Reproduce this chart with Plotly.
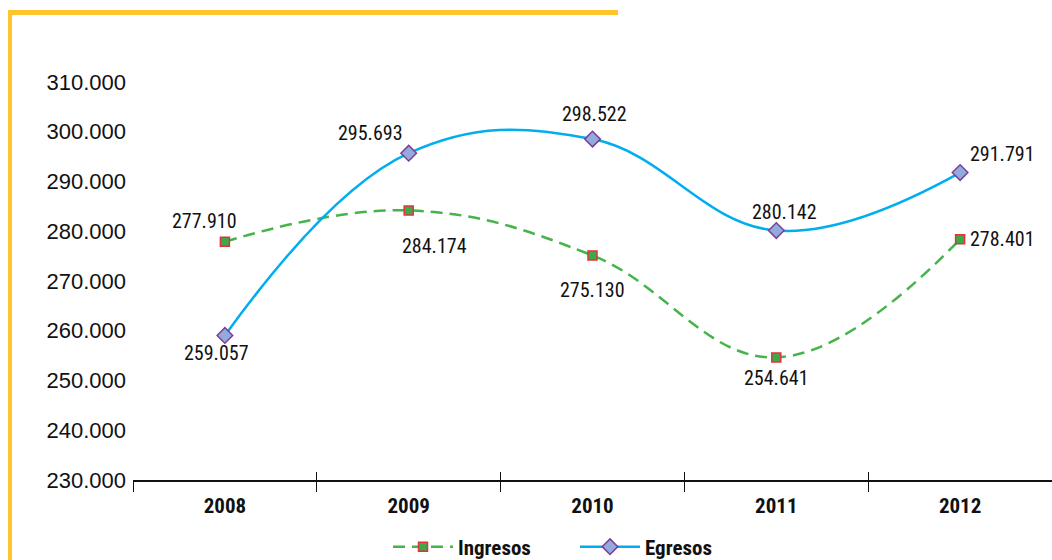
import plotly.graph_objects as go

years = ["2008", "2009", "2010", "2011", "2012"]
ingresos = [277910, 284174, 275130, 254641, 278401]
egresos = [259057, 295693, 298522, 280142, 291791]
y_ticks = [230000, 240000, 250000, 260000, 270000, 280000, 290000, 300000, 310000]

# label offsets (px) per point
ing_off = [(-20, 21), (26, -36), (0, -35), (0, -21), (42, 0)]
eg_off = [(-8, -18), (-38, 20), (2, 25), (8, 19), (42, 19)]

W, H = 1052, 560
L, R, T, B = 133, 0, 82, 80
FONT = "Roboto Condensed, Roboto"
AXFONT = "Liberation Sans, Arial, sans-serif"

def fmt(v):
    return f"{v:,}".replace(",", ".")

fig = go.Figure()
fig.add_trace(go.Scatter(
    x=years, y=ingresos, name="Ingresos", mode="lines+markers",
    line=dict(color="#45B44A", width=2.5, dash="12px,7px", shape="spline", smoothing=1.15),
    marker=dict(symbol="square", size=9, color="#3DAA48", line=dict(color="#E2323C", width=1.5)),
))
fig.add_trace(go.Scatter(
    x=years, y=egresos, name="Egresos", mode="lines+markers",
    line=dict(color="#00AEEF", width=2.5, shape="spline", smoothing=1.15),
    marker=dict(symbol="diamond", size=12, color="#93AADD", line=dict(color="#7B3F98", width=1.5)),
))
# invisible trace to activate the overlay axis used for the inner tick halves
fig.add_trace(go.Scatter(x=years, y=[None] * 5, xaxis="x2", showlegend=False, hoverinfo="skip"))

ann = []
for i, yv in enumerate(years):
    for vals, off in ((ingresos, ing_off), (egresos, eg_off)):
        ann.append(dict(x=i, y=vals[i], xref="x", yref="y", text=fmt(vals[i]),
                        showarrow=False, xshift=off[i][0], yshift=off[i][1],
                        font=dict(size=20, color="#111111", family=FONT)))

pw = W - L - R
ph = H - T - B
def px(xp):
    return (xp - L) / pw
def py(yp):
    return (H - B - yp) / ph

yellow = "#FFC52F"
shapes = [
    dict(type="rect", xref="paper", yref="paper", x0=px(8), x1=px(618), y0=py(15), y1=py(10),
         fillcolor=yellow, line=dict(width=0)),
    dict(type="rect", xref="paper", yref="paper", x0=px(8), x1=px(12), y0=py(562), y1=py(10),
         fillcolor=yellow, line=dict(width=0)),
]

fig.update_layout(
    width=W, height=H,
    margin=dict(l=L, r=R, t=T, b=B),
    paper_bgcolor="white", plot_bgcolor="white",
    separators=",.",
    showlegend=True,
    legend=dict(orientation="h", x=px(388), xanchor="left",
                yref="container", y=1 - 547 / H, yanchor="middle",
                font=dict(size=21, family=FONT, color="#111111", weight="bold"),
                itemwidth=60, entrywidth=112),
    annotations=ann,
    shapes=shapes,
    xaxis=dict(type="category", range=[-0.5, 4.5], showgrid=False, showline=True,
               linecolor="#111111", linewidth=1.5, ticks="outside", ticklen=10, tickcolor="#111111",
               tickwidth=1, tickson="boundaries",
               tickfont=dict(size=21, family=FONT, color="#111111", weight="bold"),
               ticklabelstandoff=6, zeroline=False),
    xaxis2=dict(type="category", range=[-0.5, 4.5], overlaying="x", side="bottom", anchor="y",
                showgrid=False, showline=False, ticks="inside", ticklen=8, tickcolor="#111111",
                tickwidth=1, tickson="boundaries", showticklabels=False),
    yaxis=dict(range=[230000, 310000], tickvals=y_ticks, tickformat=",.0f", showgrid=False,
               showline=False, zeroline=False, ticks="",
               tickfont=dict(size=22, family=AXFONT, color="#111111"),
               ticklabelstandoff=6),
)

fig.write_html("out.html", config={"displayModeBar": False},
               post_script="document.body.style.margin='0';")
